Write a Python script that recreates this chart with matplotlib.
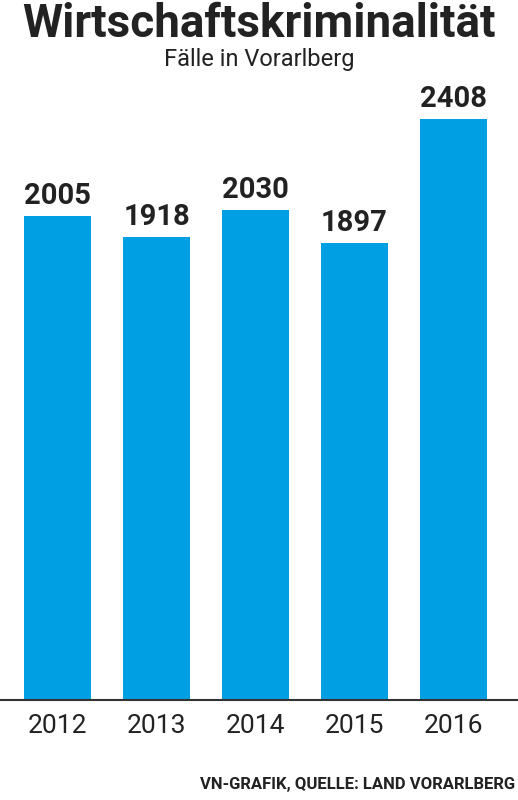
import matplotlib
matplotlib.use("Agg")
import matplotlib.pyplot as plt
from matplotlib.lines import Line2D

years = ["2012", "2013", "2014", "2015", "2016"]
cases = [2005, 1918, 2030, 1897, 2408]

fam = ["Liberation Sans Narrow", "Roboto", "DejaVu Sans"]
plt.rcParams['font.family'] = fam
blue = "#009FE3"

fig = plt.figure(figsize=(5.18, 8.0), dpi=100)
ax = fig.add_axes([8.5/518, 0.125, 494/518, 627/800])
ax.bar(range(len(years)), cases, width=0.68, color=blue)
ax.set_xlim(-0.5, 4.5)
ax.set_ylim(0, 2600)
for i, v in enumerate(cases):
    ax.text(i, v + 25, str(v), ha="center", va="bottom", fontsize=21, fontweight="bold", color="#222222")
ax.set_xticks(range(len(years)))
ax.set_xticklabels(years, fontsize=19, color="#222222")
ax.tick_params(axis="x", length=0, pad=10)
ax.set_yticks([])
for s in ax.spines.values():
    s.set_visible(False)
fig.add_artist(Line2D([0, 1], [0.125, 0.125], color="#333333", lw=1.5, transform=fig.transFigure))
fig.text(0.5, 0.998, "Wirtschaftskriminalität", ha="center", va="top", fontsize=33, fontweight="bold", color="#222222")
fig.text(0.5, 0.94, "Fälle in Vorarlberg", ha="center", va="top", fontsize=17, color="#222222")
fig.text(0.995, 0.01, "VN-GRAFIK, QUELLE: LAND VORARLBERG", ha="right", va="bottom", fontsize=12, fontweight="bold", color="#222222")
fig.savefig("out.png", dpi=100)
